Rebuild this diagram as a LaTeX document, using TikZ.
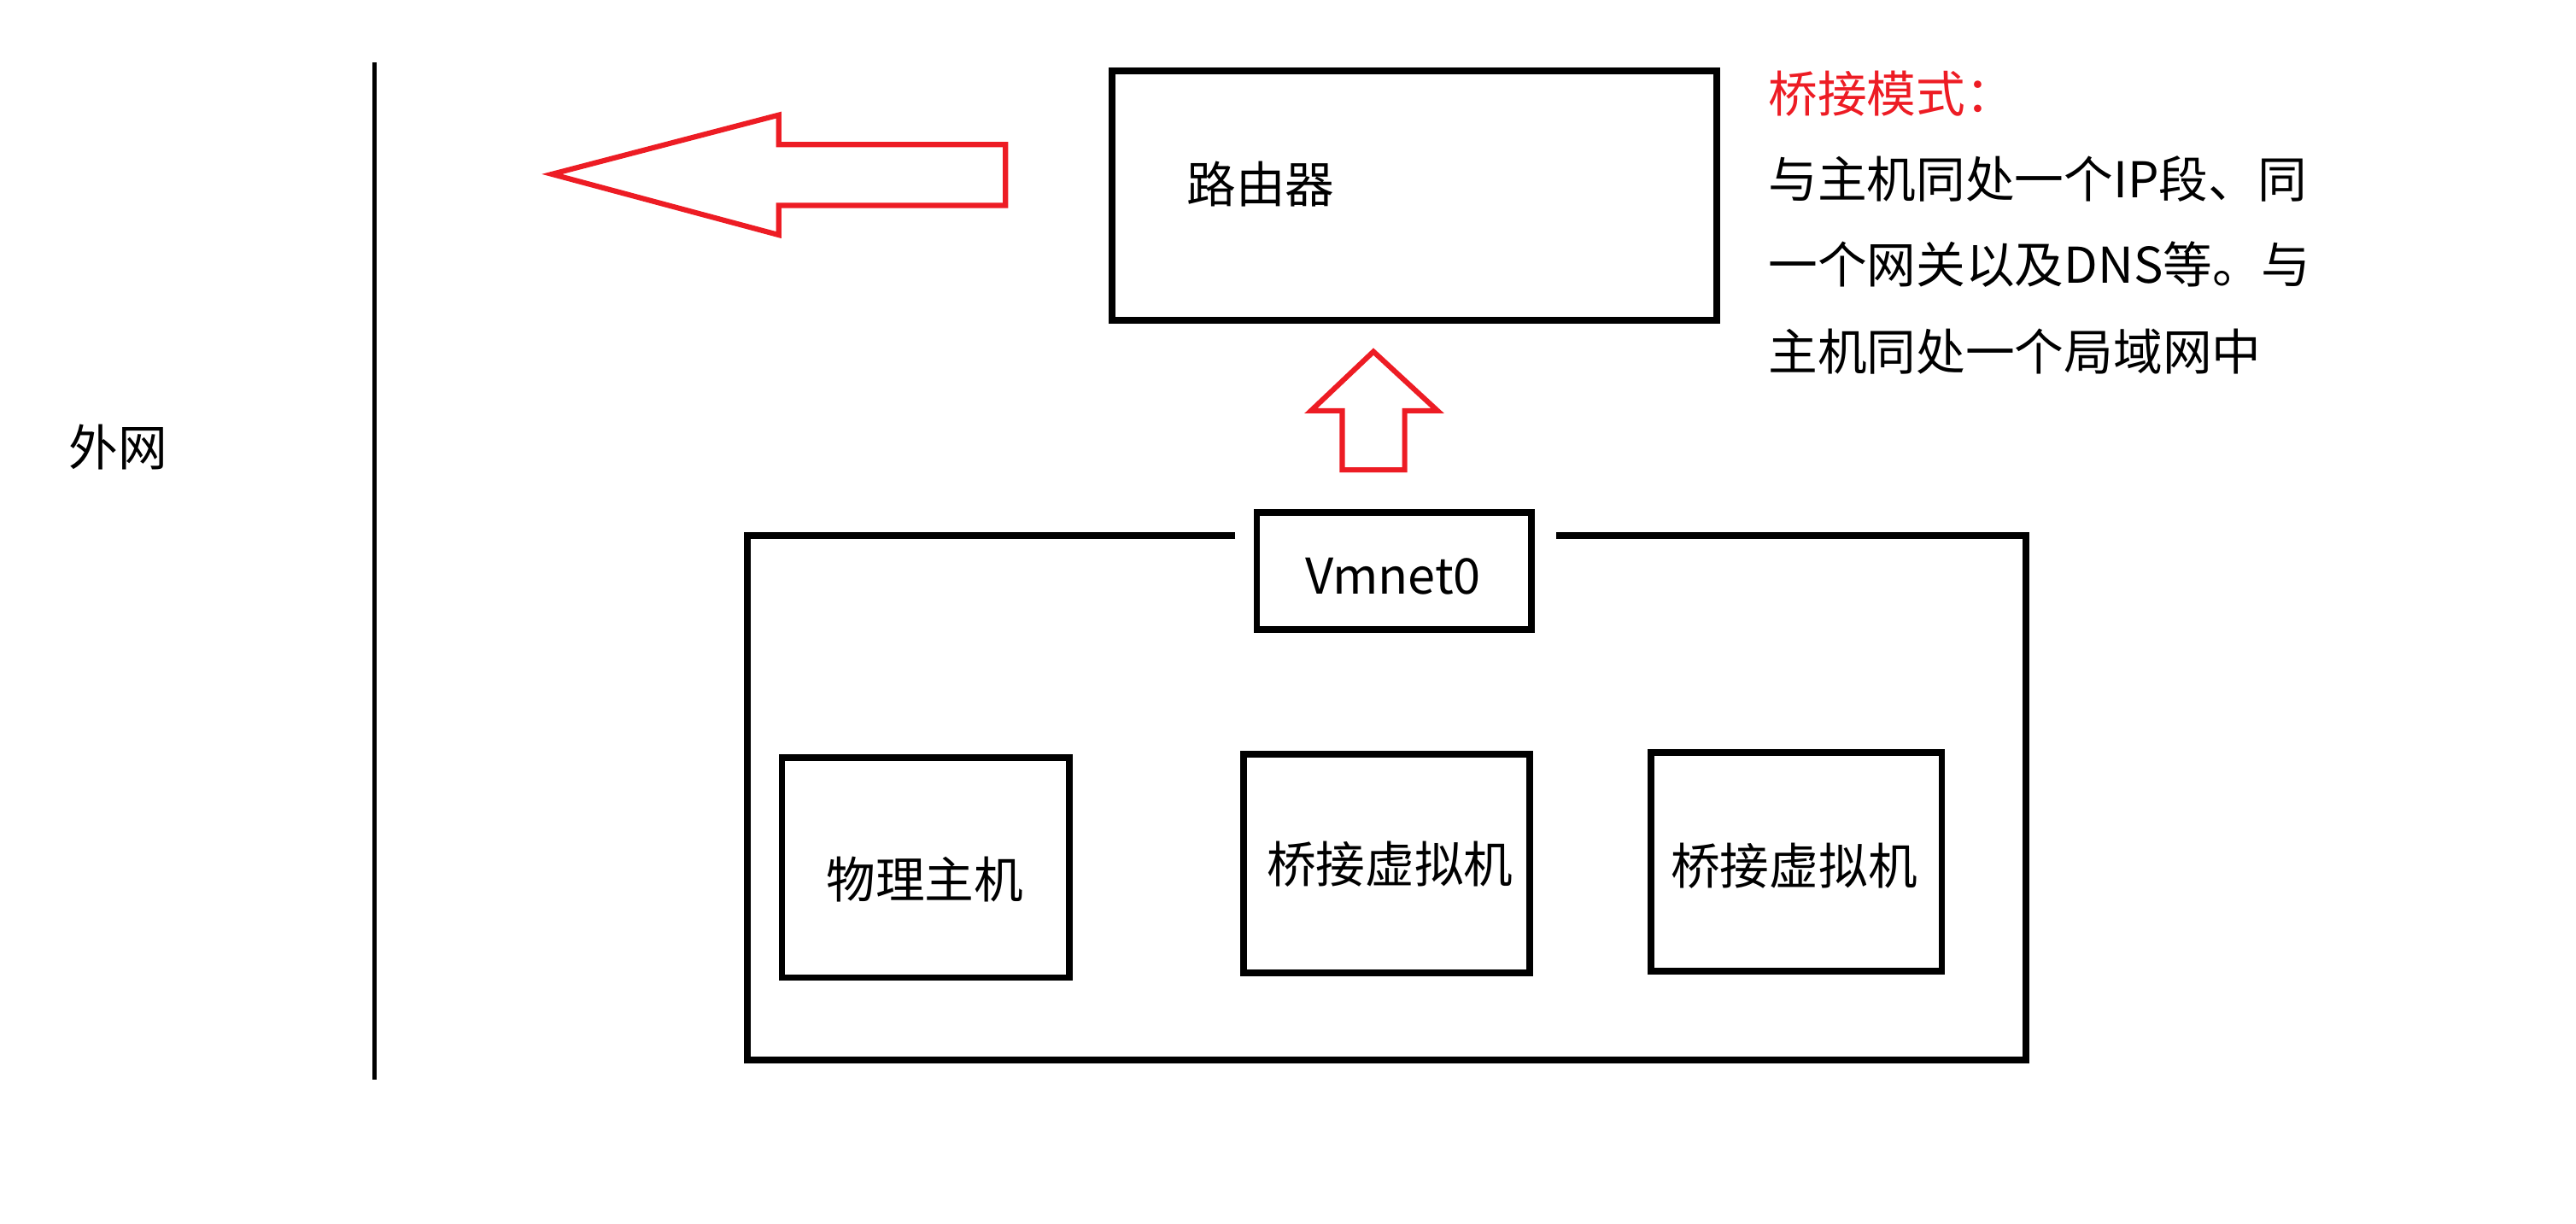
\documentclass[tikz,border=0pt]{standalone}
\usepackage{fontspec}
\setmainfont{Noto Sans CJK SC}
\definecolor{pred}{RGB}{237,28,36}
\begin{document}
\begin{tikzpicture}[x=0.5pt,y=-0.5pt,
  box/.style={draw=black,line width=2pt,inner sep=0pt,fill=white},
  txt/.style={font=\fontsize{15pt}{18pt}\selectfont,inner sep=0pt},
  blockarrow/.style={draw=pred,line width=1.6pt,line join=miter},
  wall/.style={draw=black,line width=1.5pt}]
\useasboundingbox (0,0) rectangle (1568,744.5);
% outer network line
\coordinate (wtop) at (228,38);
\coordinate (wbot) at (228,657);
\draw[wall] (wtop) -- (wbot);
\node[txt] (outer) at (72,272) {外网};
% router
\node[box, minimum width=184pt, minimum height=76pt] (router) at (861,119) {};
\node[txt, anchor=west] (routertxt) at (722,112) {路由器};
% left block arrow
\draw[blockarrow] (336,106) -- (474,70) -- (474,88) -- (612,88) -- (612,125) -- (474,125) -- (474,143) -- cycle;
% up block arrow
\draw[blockarrow] (836,214) -- (875,250) -- (855,250) -- (855,286) -- (817,286) -- (817,250) -- (798,250) -- cycle;
% container with gap
\draw[line width=2pt] (752,326) -- (455,326) -- (455,645) -- (1233,645) -- (1233,326) -- (947,326);
\node[box, minimum width=83.5pt, minimum height=35.5pt, txt, inner sep=0pt] (vmnet) at (848.5,347.5) {};
\node[txt] (vmnettxt) at (848,351) {Vmnet0};
% hosts
\node[box, minimum width=87.5pt, minimum height=67pt] (host) at (563.5,528) {};
\node[txt] (hosttxt) at (563,535) {物理主机};
\node[box, minimum width=87pt, minimum height=66.5pt] (vm1) at (844,525.5) {};
\node[txt] (vm1txt) at (846,526) {桥接虚拟机};
\node[box, minimum width=88.5pt, minimum height=66.5pt] (vm2) at (1093.5,524.5) {};
\node[txt] (vm2txt) at (1092,527) {桥接虚拟机};
% note
\node[txt, anchor=west, text=pred] (note1) at (1076,57) {桥接模式：};
\node[txt, anchor=west] (note2) at (1076,109) {与主机同处一个IP段、同};
\node[txt, anchor=west] (note3) at (1076,161) {一个网关以及DNS等。与};
\node[txt, anchor=west] (note4) at (1076,214) {主机同处一个局域网中};
\end{tikzpicture}
\end{document}
